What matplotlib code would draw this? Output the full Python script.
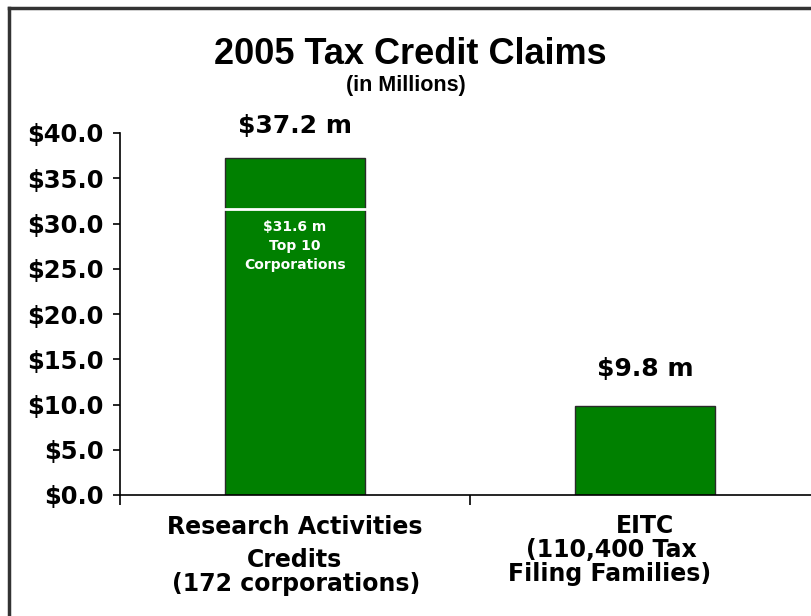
import matplotlib
matplotlib.use("Agg")
import matplotlib.pyplot as plt
from matplotlib.lines import Line2D

# data
categories = ["Research Activities Credits", "EITC"]
totals = [37.2, 9.8]
top10_share = 31.6
value_labels = ["$37.2 m", "$9.8 m"]
inner_label = "$31.6 m\nTop 10\nCorporations"
yticks = [0, 5, 10, 15, 20, 25, 30, 35, 40]

W, H = 812, 616
fig = plt.figure(figsize=(W / 100, H / 100), dpi=100)
fig.patch.set_facecolor("white")

def fx(px):
    return px / W

def fy(py):
    return 1 - py / H

# slide frame (top and left edges visible)
fig.add_artist(Line2D([fx(9), fx(9)], [fy(8), -0.1], transform=fig.transFigure,
                      color="#333333", lw=2.5))
fig.add_artist(Line2D([fx(9), 1.1], [fy(8), fy(8)], transform=fig.transFigure,
                      color="#333333", lw=2.5))

ax = fig.add_axes([fx(120), fy(495), fx(700), (495 - 133) / H])
x = range(len(categories))
ax.bar(x, totals, width=0.4, color="#008000", edgecolor="#2a2a2a", lw=1, zorder=2)
# split line inside first bar
ax.plot([-0.2, 0.2], [top10_share, top10_share], color="white", lw=2, zorder=3)

ax.set_xlim(-0.5, 1.5)
ax.set_ylim(0, 40)
ax.set_xticks([-0.5, 0.5, 1.5])
ax.set_xticklabels([])
ax.set_yticks(yticks)
ax.set_yticklabels(["$%.1f" % v for v in yticks])
for s in ["top", "right"]:
    ax.spines[s].set_visible(False)
for s in ["left", "bottom"]:
    ax.spines[s].set_linewidth(1.2)
    ax.spines[s].set_clip_on(False)
ax.tick_params(axis="y", length=5, width=1.2, pad=7, labelsize=17.5)
ax.tick_params(axis="x", length=7, width=1.2)
for lab in ax.get_yticklabels():
    lab.set_fontweight("bold")
    lab.set_fontfamily("DejaVu Sans")

offsets = [32, 37]
for i, (v, lab) in enumerate(zip(totals, value_labels)):
    ax.annotate(lab, (i, v), xytext=(0, offsets[i]), textcoords="offset pixels",
                ha="center", va="center", fontsize=18, fontweight="bold",
                family="DejaVu Sans", annotation_clip=False)

ax.text(0, 30.4, inner_label, ha="center", va="top", fontsize=10,
        fontweight="bold", color="white", family="DejaVu Sans",
        linespacing=1.45, zorder=4)

# titles
fig.text(fx(410), fy(55), "2005 Tax Credit Claims", ha="center", va="center",
         fontsize=26, fontweight="bold", family="Liberation Sans")
fig.text(fx(406), fy(85), "(in Millions)", ha="center", va="center",
         fontsize=15.5, fontweight="bold", family="Liberation Sans")

# category labels (lines placed as in the reference)
cat_lines = [
    ("Research Activities", 295, 534),
    ("Credits", 295, 567),
    ("(172 corporations)", 296, 591),
    ("EITC", 645, 533),
    ("(110,400 Tax", 611, 557),
    ("Filing Families)", 610, 581),
]
for txt, px, py in cat_lines:
    fig.text(fx(px), fy(py), txt, ha="center", va="baseline", fontsize=17,
             fontweight="bold", family="DejaVu Sans")

fig.savefig("out.png", dpi=100)
